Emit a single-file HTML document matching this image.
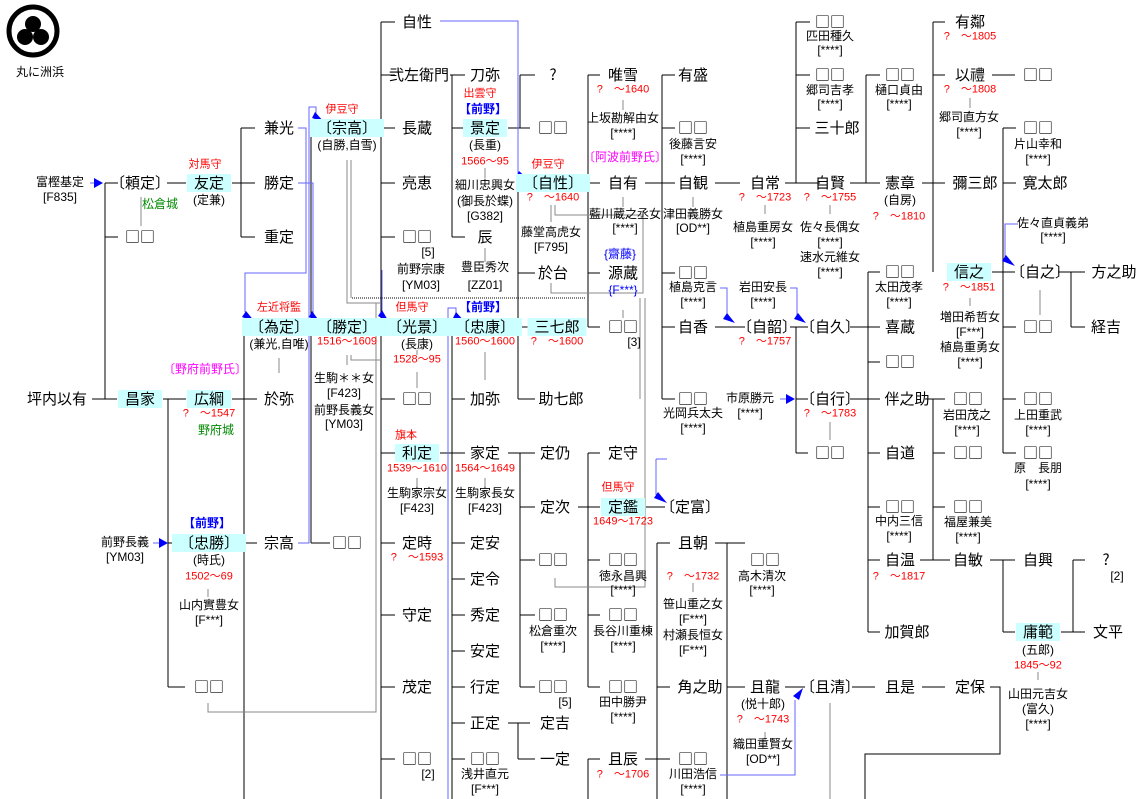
<!DOCTYPE html>
<html><head><meta charset="utf-8"><style>
body{margin:0;width:1139px;height:799px;background:#fff;position:relative;overflow:hidden;font-family:"Liberation Sans","Noto Sans CJK JP",sans-serif;color:#000}
div{position:absolute;transform:translate(-50%,-50%);white-space:nowrap;line-height:1.15}
.n{font-size:15px;font-family:"Noto Sans CJK JP","Liberation Sans",sans-serif;line-height:18px}
.s{font-size:12px}
.r{font-size:11px;color:#f00}
.g{font-size:12px;color:#080}
.b{font-size:12px;color:#00f;font-weight:bold}
.m{font-size:12px;color:#f0f}
.h{background:#ccffff;padding:0 7px}
svg{position:absolute;left:0;top:0}
</style></head><body>
<svg width="1139" height="799" viewBox="0 0 1139 799">
<circle cx="33" cy="31" r="24" fill="none" stroke="#000" stroke-width="5"/>
<circle cx="33" cy="24" r="8" fill="#000"/><circle cx="25" cy="37" r="8" fill="#000"/><circle cx="41" cy="37" r="8" fill="#000"/>
<g stroke="#000" stroke-width="1" fill="none" shape-rendering="crispEdges">
<path d="M105 183V399M105 183H118M105 237H118M92 399H117M167 183H186M232 183H241M241 128V237M241 128H255M241 183H255M241 237H255"/>
<path d="M163 399H186M168 399V687M168 543H185M168 687H185M232 399H244M244 327V799M244 327H257M244 399H257M244 543H257"/>
<path d="M300 327H320M311 128V543M311 128H322M311 543H330M372 128H381M381 22V799M372 327H395"/>
<path d="M381 22H395M381 75H395M381 128H395M381 183H395M381 237H395M381 399H395M381 453H395M381 543H395M381 615H395M381 687H395M381 759H395"/>
<path d="M450 75H465M452 75V237M452 128H465M452 237H465M440 327H460M452 327V799M452 399H465M440 453H465M452 543H465M452 579H465M452 615H465M452 651H465M452 687H465M452 723H465M452 759H465"/>
<path d="M508 128H530M520 75V128M520 75H535M518 183V399M518 183H530M518 273H535M508 327H535M518 399H535"/>
<path d="M508 453H535M520 453V687M520 507H535M520 560H535M520 615H535M520 687H535M508 723H530M518 723V759M518 759H535"/>
<path d="M578 183H600M588 75V327M588 75H600M588 273H600M588 327H600M645 183H675M662 75V399M662 75H675M662 128H675M662 273H675M662 327H675M662 399H675"/>
<path d="M578 507H600M588 453V687M588 453H600M588 560H600M588 615H600M588 687H600M646 507H665M588 759V799M588 759H600M645 759H670M657 543V799M657 543H670M657 687H670"/>
<path d="M715 543H745M727 543V799M727 687H745M785 687H805M852 687H875M922 687H945M990 687H1000V754H865V799"/>
<path d="M715 183H740M785 183H820M796 22V183M796 22H810M796 75H810M796 128H810M850 183H880M866 75V183M866 75H880"/>
<path d="M922 183H945M933 22V272M933 22H945M933 75H945M992 75H1015M992 272H1015M1003 128V453M1003 128H1016M1003 183H1016M1003 327H1016M1003 399H1016M1003 453H1016M1058 272H1085M1071 272V327M1071 327H1085"/>
<path d="M715 327H745M790 327H808M796 327V453M796 399H808M796 453H808M850 327H880M868 272V632M868 272H880M868 362H880M850 399H880M868 453H880M868 507H880M868 560H880M868 632H880"/>
<path d="M925 399H945M933 399V560M933 453H945M933 507H945M920 560H950M990 560H1015M1003 560V632M1003 632H1015M1061 632H1085M1073 560V632M1073 560H1085"/>
</g>
<g stroke="#888" stroke-width="1" fill="none" shape-rendering="crispEdges">
<path d="M141 197V226M279 358V373M347 160V303H380M351 160V298M208 703V712H376V303M347 355V365M351 355V360H380M417 350V355M417 372V388M485 168V178M485 248V262M485 352V380M551 205V222M555 205V215H643V293H551V283M555 578V587H645V298M640 298V399M623 100V110M623 197V207M693 197V207M765 205V214M830 205V214M970 98V108M970 298V306M1040 290V315M830 422V440M417 478V487M485 478V487M623 310V318M693 583V592M208 589V597M1038 672V680M765 732V740M830 703V799"/>
</g>
<path d="M352 298H585" stroke="#000" stroke-dasharray="1,1" fill="none"/>
<g stroke="#66f" stroke-width="1" fill="none">
<path d="M440 21H518V178M298 128H306V273H245V312M298 183H313V315M298 543H309V107H316V115M382 270V312M448 799V308H456V316M656 459H667M656 459V495M720 288H727V318M790 288H797V318M1018 224H1005V258M720 775H795V700M90 183H100M153 543H163M780 399H790"/>
</g>
<g fill="#00f">
<path d="M530 181L519 171L516 177Z M255 322L246 311L242 317Z M320 322L312 311L309 317Z M324 122L315 112L312 118Z M389 322L382 310L378 316Z M465 322L456 312L453 318Z M667 503L658 492L654 498Z M735 323L727 313L723 319Z M806 323L798 313L794 319Z M1015 266L1006 255L1002 261Z M803 688L793 696L799 700Z M103 183L94 178V188Z M168 543L159 538V548Z M795 399L786 394V404Z"/>
</g>
</svg>

<div class="s" style="left:40px;top:73px">丸に洲浜</div>

<div class="s" style="left:60px;top:183px">富樫基定</div><div class="s" style="left:60px;top:198px">[F835]</div>
<div class="n" style="left:140px;top:183px">〔頼定〕</div>
<div class="r" style="left:205px;top:165px">対馬守</div>
<div class="n h" style="left:209px;top:183px">友定</div><div class="s" style="left:209px;top:201px">(定兼)</div>
<div class="g" style="left:160px;top:205px">松倉城</div>
<div class="n" style="left:140px;top:237px">□□</div>
<div class="n" style="left:279px;top:128px">兼光</div><div class="n" style="left:279px;top:183px">勝定</div><div class="n" style="left:279px;top:237px">重定</div>

<div class="n" style="left:57px;top:399px">坪内以有</div>
<div class="n h" style="left:140px;top:399px">昌家</div>
<div class="m" style="left:205px;top:370px">〔野府前野氏〕</div>
<div class="n h" style="left:209px;top:399px">広綱</div><div class="r" style="left:209px;top:414px">?　～1547</div><div class="g" style="left:216px;top:431px">野府城</div>
<div class="s" style="left:125px;top:543px">前野長義</div><div class="s" style="left:125px;top:558px">[YM03]</div>
<div class="b" style="left:207px;top:524px">【前野】</div>
<div class="n h" style="left:209px;top:543px">〔忠勝〕</div><div class="s" style="left:209px;top:561px">(時氏)</div><div class="r" style="left:209px;top:577px">1502～69</div>
<div class="s" style="left:209px;top:606px">山内實豊女</div><div class="s" style="left:209px;top:621px">[F***]</div>
<div class="n" style="left:209px;top:687px">□□</div>

<div class="r" style="left:279px;top:308px">左近将監</div>
<div class="n h" style="left:279px;top:327px">〔為定〕</div><div class="s" style="left:279px;top:345px">(兼光,自唯)</div>
<div class="n" style="left:279px;top:399px">於弥</div>
<div class="n" style="left:279px;top:543px">宗高</div>
<div class="n" style="left:347px;top:543px">□□</div>

<div class="r" style="left:342px;top:110px">伊豆守</div>
<div class="n h" style="left:347px;top:128px">〔宗高〕</div><div class="s" style="left:347px;top:146px">(自勝,自雪)</div>
<div class="n h" style="left:347px;top:327px">〔勝定〕</div><div class="r" style="left:347px;top:342px">1516～1609</div>
<div class="s" style="left:344px;top:379px">生駒＊＊女</div><div class="s" style="left:344px;top:394px">[F423]</div>
<div class="s" style="left:344px;top:411px">前野長義女</div><div class="s" style="left:344px;top:425px">[YM03]</div>

<div class="n" style="left:417px;top:22px">自性</div>
<div class="n" style="left:419px;top:75px">弐左衛門</div>
<div class="n" style="left:417px;top:128px">長蔵</div>
<div class="n" style="left:417px;top:183px">亮恵</div>
<div class="n" style="left:417px;top:237px">□□</div><div class="s" style="left:428px;top:253px">[5]</div>
<div class="s" style="left:421px;top:270px">前野宗康</div><div class="s" style="left:421px;top:286px">[YM03]</div>
<div class="r" style="left:412px;top:308px">但馬守</div>
<div class="n h" style="left:417px;top:327px">〔光景〕</div><div class="s" style="left:417px;top:345px">(長康)</div><div class="r" style="left:417px;top:360px">1528～95</div>
<div class="n" style="left:417px;top:399px">□□</div>
<div class="r" style="left:406px;top:436px">旗本</div>
<div class="n h" style="left:417px;top:453px">利定</div><div class="r" style="left:417px;top:469px">1539～1610</div>
<div class="s" style="left:417px;top:494px">生駒家宗女</div><div class="s" style="left:417px;top:509px">[F423]</div>
<div class="n" style="left:417px;top:543px">定時</div><div class="r" style="left:417px;top:558px">?　～1593</div>
<div class="n" style="left:417px;top:615px">守定</div>
<div class="n" style="left:417px;top:687px">茂定</div>
<div class="n" style="left:417px;top:759px">□□</div><div class="s" style="left:428px;top:775px">[2]</div>

<div class="n" style="left:485px;top:75px">刀弥</div>
<div class="r" style="left:480px;top:94px">出雲守</div><div class="b" style="left:483px;top:110px">【前野】</div>
<div class="n h" style="left:485px;top:128px">景定</div><div class="s" style="left:485px;top:146px">(長重)</div><div class="r" style="left:485px;top:162px">1566～95</div>
<div class="s" style="left:485px;top:186px">細川忠興女</div><div class="s" style="left:485px;top:202px">(御長於蝶)</div><div class="s" style="left:485px;top:217px">[G382]</div>
<div class="n" style="left:485px;top:237px">辰</div>
<div class="s" style="left:485px;top:268px">豊臣秀次</div><div class="s" style="left:485px;top:286px">[ZZ01]</div>
<div class="b" style="left:483px;top:308px">【前野】</div>
<div class="n h" style="left:485px;top:327px">〔忠康〕</div><div class="r" style="left:485px;top:342px">1560～1600</div>
<div class="n" style="left:485px;top:399px">加弥</div>
<div class="n" style="left:485px;top:453px">家定</div><div class="r" style="left:485px;top:469px">1564～1649</div>
<div class="s" style="left:485px;top:494px">生駒家長女</div><div class="s" style="left:485px;top:509px">[F423]</div>
<div class="n" style="left:485px;top:543px">定安</div><div class="n" style="left:485px;top:579px">定令</div><div class="n" style="left:485px;top:615px">秀定</div>
<div class="n" style="left:485px;top:651px">安定</div><div class="n" style="left:485px;top:687px">行定</div><div class="n" style="left:485px;top:723px">正定</div>
<div class="n" style="left:485px;top:759px">□□</div><div class="s" style="left:485px;top:775px">浅井直元</div><div class="s" style="left:485px;top:790px">[F***]</div>

<div class="n" style="left:553px;top:75px">?</div>
<div class="n" style="left:553px;top:128px">□□</div>
<div class="r" style="left:548px;top:165px">伊豆守</div>
<div class="n h" style="left:553px;top:183px">〔自性〕</div><div class="r" style="left:553px;top:198px">?　～1640</div>
<div class="s" style="left:551px;top:233px">藤堂高虎女</div><div class="s" style="left:551px;top:248px">[F795]</div>
<div class="n" style="left:553px;top:273px">於台</div>
<div class="n h" style="left:557px;top:327px">三七郎</div><div class="r" style="left:557px;top:342px">?　～1600</div>
<div class="n" style="left:561px;top:399px">助七郎</div>
<div class="n" style="left:555px;top:453px">定仍</div><div class="n" style="left:555px;top:507px">定次</div>
<div class="n" style="left:553px;top:560px">□□</div>
<div class="n" style="left:553px;top:615px">□□</div><div class="s" style="left:553px;top:632px">松倉重次</div><div class="s" style="left:553px;top:647px">[****]</div>
<div class="n" style="left:553px;top:687px">□□</div><div class="s" style="left:565px;top:703px">[5]</div>
<div class="n" style="left:555px;top:723px">定吉</div><div class="n" style="left:555px;top:759px">一定</div>

<div class="n" style="left:623px;top:75px">唯雪</div><div class="r" style="left:623px;top:90px">?　～1640</div>
<div class="s" style="left:623px;top:119px">上坂勘解由女</div><div class="s" style="left:623px;top:134px">[****]</div>
<div class="m" style="left:625px;top:158px">〔阿波前野氏〕</div>
<div class="n" style="left:623px;top:183px">自有</div>
<div class="s" style="left:625px;top:215px">藍川蔵之丞女</div><div class="s" style="left:625px;top:229px">[****]</div>
<div class="b" style="left:620px;top:255px;font-weight:normal">{齋藤}</div>
<div class="n" style="left:623px;top:273px">源蔵</div>
<div class="b" style="left:623px;top:291px;font-weight:normal">{F***}</div>
<div class="n" style="left:623px;top:327px">□□</div><div class="s" style="left:634px;top:343px">[3]</div>
<div class="n" style="left:623px;top:453px">定守</div>
<div class="r" style="left:618px;top:488px">但馬守</div>
<div class="n h" style="left:623px;top:507px">定鑑</div><div class="r" style="left:623px;top:522px">1649～1723</div>
<div class="n" style="left:690px;top:507px">〔定富〕</div>
<div class="n" style="left:623px;top:560px">□□</div><div class="s" style="left:623px;top:577px">徳永昌興</div><div class="s" style="left:623px;top:591px">[****]</div>
<div class="n" style="left:623px;top:615px">□□</div><div class="s" style="left:623px;top:632px">長谷川重棟</div><div class="s" style="left:623px;top:647px">[****]</div>
<div class="n" style="left:623px;top:687px">□□</div><div class="s" style="left:623px;top:703px">田中勝尹</div><div class="s" style="left:623px;top:718px">[****]</div>
<div class="n" style="left:623px;top:759px">且辰</div><div class="r" style="left:623px;top:775px">?　～1706</div>

<div class="n" style="left:693px;top:75px">有盛</div>
<div class="n" style="left:693px;top:128px">□□</div><div class="s" style="left:693px;top:145px">後藤言安</div><div class="s" style="left:693px;top:160px">[****]</div>
<div class="n" style="left:693px;top:183px">自観</div>
<div class="s" style="left:693px;top:215px">津田義勝女</div><div class="s" style="left:693px;top:229px">[OD**]</div>
<div class="n" style="left:693px;top:273px">□□</div><div class="s" style="left:693px;top:288px">植島克言</div><div class="s" style="left:693px;top:303px">[****]</div>
<div class="n" style="left:693px;top:327px">自香</div>
<div class="n" style="left:693px;top:399px">□□</div><div class="s" style="left:693px;top:414px">光岡兵太夫</div><div class="s" style="left:693px;top:429px">[****]</div>
<div class="n" style="left:693px;top:543px">且朝</div><div class="r" style="left:693px;top:577px">?　～1732</div>
<div class="s" style="left:693px;top:605px">笹山重之女</div><div class="s" style="left:693px;top:620px">[F***]</div>
<div class="s" style="left:693px;top:636px">村瀬長恒女</div><div class="s" style="left:693px;top:651px">[F***]</div>
<div class="n" style="left:700px;top:687px">角之助</div>
<div class="n" style="left:693px;top:759px">□□</div><div class="s" style="left:693px;top:775px">川田浩信</div><div class="s" style="left:693px;top:790px">[****]</div>

<div class="n" style="left:765px;top:183px">自常</div><div class="r" style="left:765px;top:198px">?　～1723</div>
<div class="s" style="left:763px;top:228px">植島重房女</div><div class="s" style="left:763px;top:243px">[****]</div>
<div class="s" style="left:763px;top:288px">岩田安長</div><div class="s" style="left:763px;top:303px">[****]</div>
<div class="n" style="left:767px;top:327px">〔自韶〕</div><div class="r" style="left:765px;top:342px">?　～1757</div>
<div class="s" style="left:750px;top:399px">市原勝元</div><div class="s" style="left:750px;top:414px">[****]</div>
<div class="n" style="left:765px;top:560px">□□</div><div class="s" style="left:762px;top:577px">高木清次</div><div class="s" style="left:762px;top:591px">[****]</div>
<div class="n" style="left:765px;top:687px">且龍</div><div class="s" style="left:763px;top:705px">(悦十郎)</div><div class="r" style="left:763px;top:720px">?　～1743</div>
<div class="s" style="left:763px;top:745px">織田重賢女</div><div class="s" style="left:763px;top:760px">[OD**]</div>

<div class="n" style="left:830px;top:22px">□□</div><div class="s" style="left:830px;top:37px">匹田種久</div><div class="s" style="left:830px;top:51px">[****]</div>
<div class="n" style="left:830px;top:75px">□□</div><div class="s" style="left:830px;top:91px">郷司吉孝</div><div class="s" style="left:830px;top:105px">[****]</div>
<div class="n" style="left:837px;top:128px">三十郎</div>
<div class="n" style="left:830px;top:183px">自賢</div><div class="r" style="left:830px;top:198px">?　～1755</div>
<div class="s" style="left:830px;top:228px">佐々長偶女</div><div class="s" style="left:830px;top:243px">[****]</div>
<div class="s" style="left:830px;top:258px">速水元維女</div><div class="s" style="left:830px;top:273px">[****]</div>
<div class="n" style="left:830px;top:327px">〔自久〕</div>
<div class="n" style="left:830px;top:399px">〔自行〕</div><div class="r" style="left:830px;top:414px">?　～1783</div>
<div class="n" style="left:830px;top:453px">□□</div>
<div class="n" style="left:830px;top:687px">〔且清〕</div>
<div class="n" style="left:900px;top:687px">且是</div>
<div class="n" style="left:970px;top:687px">定保</div>

<div class="n" style="left:900px;top:75px">□□</div><div class="s" style="left:899px;top:91px">樋口貞由</div><div class="s" style="left:899px;top:105px">[****]</div>
<div class="n" style="left:900px;top:183px">憲章</div><div class="s" style="left:900px;top:201px">(自房)</div><div class="r" style="left:899px;top:217px">?　～1810</div>
<div class="n" style="left:900px;top:272px">□□</div><div class="s" style="left:899px;top:288px">太田茂孝</div><div class="s" style="left:899px;top:303px">[****]</div>
<div class="n" style="left:900px;top:327px">喜蔵</div>
<div class="n" style="left:900px;top:362px">□□</div>
<div class="n" style="left:907px;top:399px">伴之助</div>
<div class="n" style="left:900px;top:453px">自道</div>
<div class="n" style="left:900px;top:507px">□□</div><div class="s" style="left:899px;top:522px">中内三信</div><div class="s" style="left:899px;top:537px">[****]</div>
<div class="n" style="left:900px;top:560px">自温</div><div class="r" style="left:899px;top:577px">?　～1817</div>
<div class="n" style="left:907px;top:632px">加賀郎</div>

<div class="n" style="left:970px;top:22px">有鄰</div><div class="r" style="left:970px;top:37px">?　～1805</div>
<div class="n" style="left:970px;top:75px">以禮</div><div class="r" style="left:970px;top:90px">?　～1808</div>
<div class="s" style="left:969px;top:118px">郷司直方女</div><div class="s" style="left:969px;top:133px">[****]</div>
<div class="n" style="left:975px;top:183px">彌三郎</div>
<div class="n h" style="left:969px;top:272px">信之</div><div class="r" style="left:969px;top:288px">?　～1851</div>
<div class="s" style="left:970px;top:318px">増田希哲女</div><div class="s" style="left:970px;top:333px">[F***]</div>
<div class="s" style="left:970px;top:348px">植島重勇女</div><div class="s" style="left:970px;top:363px">[****]</div>
<div class="n" style="left:968px;top:399px">□□</div><div class="s" style="left:967px;top:416px">岩田茂之</div><div class="s" style="left:967px;top:431px">[****]</div>
<div class="n" style="left:968px;top:453px">□□</div>
<div class="n" style="left:968px;top:507px">□□</div><div class="s" style="left:968px;top:523px">福屋兼美</div><div class="s" style="left:968px;top:538px">[****]</div>
<div class="n" style="left:968px;top:560px">自敏</div>

<div class="n" style="left:1038px;top:75px">□□</div>
<div class="n" style="left:1038px;top:128px">□□</div><div class="s" style="left:1038px;top:145px">片山幸和</div><div class="s" style="left:1038px;top:160px">[****]</div>
<div class="n" style="left:1045px;top:183px">寛太郎</div>
<div class="s" style="left:1053px;top:224px">佐々直貞義弟</div><div class="s" style="left:1053px;top:238px">[****]</div>
<div class="n" style="left:1040px;top:272px">〔自之〕</div>
<div class="n" style="left:1038px;top:327px">□□</div>
<div class="n" style="left:1038px;top:399px">□□</div><div class="s" style="left:1038px;top:416px">上田重武</div><div class="s" style="left:1038px;top:431px">[****]</div>
<div class="n" style="left:1038px;top:453px">□□</div><div class="s" style="left:1038px;top:469px">原　長朋</div><div class="s" style="left:1038px;top:485px">[****]</div>
<div class="n" style="left:1038px;top:560px">自興</div>
<div class="n h" style="left:1038px;top:632px">庸範</div><div class="s" style="left:1038px;top:651px">(五郎)</div><div class="r" style="left:1038px;top:666px">1845～92</div>
<div class="s" style="left:1038px;top:695px">山田元吉女</div><div class="s" style="left:1038px;top:710px">(富久)</div><div class="s" style="left:1038px;top:725px">[****]</div>

<div class="n" style="left:1114px;top:272px">方之助</div>
<div class="n" style="left:1106px;top:327px">経吉</div>
<div class="n" style="left:1106px;top:560px">?</div><div class="s" style="left:1117px;top:577px">[2]</div>
<div class="n" style="left:1108px;top:632px">文平</div>
</body></html>
